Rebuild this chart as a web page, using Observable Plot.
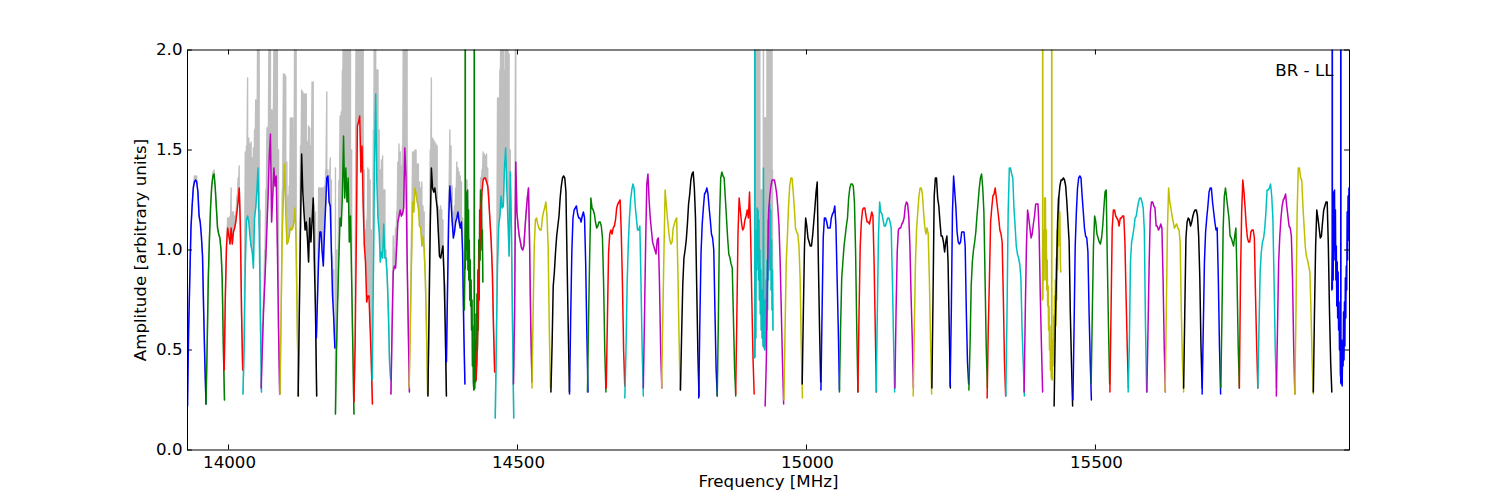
<!DOCTYPE html>
<html><head><meta charset="utf-8">
<style>html,body{margin:0;padding:0;background:#fff}</style>
<script src="https://cdn.jsdelivr.net/npm/d3@7"></script>
<script src="https://cdn.jsdelivr.net/npm/@observablehq/plot@0.6"></script>
</head><body><div id="chart"></div>
<script>
const xTicks=[14000,14500,15000,15500];
const yTicks=[0,0.5,1,1.5,2];
const xDomain=[13929,15939.6];
const bandWidth=32;
const cycle=["#0000ff","#008000","#ff0000","#00bfbf","#bf00bf","#bfbf00","#000000"];
const starts=[13929,13961,13992.5,14025,14056.5,14089,14120.5,14152,14185,14217,14248.6,14281,14312.5,14345,14377,14408,14428.5,14461.5,14493,14525,14557.8,14590,14621,14653.6,14685.7,14717.7,14749.4,14782,14813.6,14845.6,14877.5,14910,14928.5,14961,14992.6,15025,15057,15089,15120.6,15153,15184.6,15217,15248.6,15281,15312.6,15345,15376.6,15408,15428.5,15461,15492.6,15525,15556.6,15589,15620.6,15652.6,15684.6,15717,15749,15781,15813,15845,15877,15909];
const S=20; // off-scale spike amplitude
const b00=[.22,.61,.86,1.11,1.22,1.31,1.34,1.35,1.34,1.29,1.17,1.14,1.07,.97,.69,.44,.23];
const b01=[.23,.52,.86,1.06,1.22,1.32,1.37,1.38,1.31,1.21,1.11,1.08,1.06,1,.86,.52,.25];
const b02=[.40,.77,1.02,1.11,1.07,1.03,1.11,1.03,1.09,1.11,1.14,1.19,1.24,1.31,1.11,.69,.40];
const b03=[.28,.52,.92,1.15,1.17,1.14,1.07,1.02,.99,.91,1.16,1.21,1.29,1.41,1.11,.69,.29];
const b04=[.31,.51,.69,.82,.96,1.12,1.27,1.47,1.58,1.14,1.27,1.41,1.32,1.37,1.02,.61,.28];
const b05=[.28,.69,1.09,1.27,1.43,1.19,1.03,1.04,1.07,1.11,1.10,1.11,1.14,1.21,1.02,.61,.27];
const b06=[.27,.69,1.11,1.48,1.29,1.19,1.10,1.14,1.06,.94,1.16,1.04,1.14,1.26,.94,.69,.27];
const b07=[.56,.77,.96,1.09,1.09,.99,.92,1.09,1.22,1.36,1.37,1.24,1.22,.99,.77,.66,.51];
const b08=[.18,.52,.76,.97,1.16,1.12,1.27,1.57,1.26,1.41,1.24,1.36,1.04,1.17,.86,.52,.18];
const b09=[.24,.52,1.02,1.62,1.64,1.67,1.39,1.52,1.22,1.02,.94,.74,.77,.77,.61,.44,.23];
const b10=[.35,.86,1.44,1.78,1.34,1.16,1.09,.94,.99,.96,1.13,.96,.96,.86,.69,.44,.35];
const b11=[.28,.61,.89,.92,.91,1.02,1.14,1.17,1.20,1.17,1.18,1.21,1.51,1.37,.96,.61,.29];
const b12=[.31,.61,.94,1.24,1.19,1.31,1.28,1.24,1.21,1.12,1.11,1.02,1.07,1,.86,.61,.28];
const b13=[.27,.69,1.11,1.41,1.31,1.29,1.31,1.26,1.21,1.09,.97,.96,.99,1.02,.86,.61,.27];
const b14=[.44,.82,1.16,1.32,1.24,1.14,1.06,1.09,1.14,1.16,1.19,1.14,1.11,1.14,.99,.61,.33];
const b15=[.70,.90,S,1.15,1,1.29,.95,1.30,.9,1.2,.85,1.05,.75,.95,.72,.85,.6,.75,.42,.62,.34,.30,S,.31,.55,.34,.68,.42,.78,.5,.9,.6,1.05,.75,1.2,.95,1.3,1.05,1.28,1,1.1,.84];
const b16=[.35,.52,.77,1.02,1.19,1.29,1.35,1.36,1.36,1.34,1.32,1.24,1.14,1.04,.89,.61,.39];
const b17=[.16,.56,.94,1.12,1.17,1.27,1.21,1.22,1.41,1.51,1.31,1.14,.97,1.39,1.1,.6,.16];
const b18=[.33,.69,1.44,1.19,1.12,1.07,1.04,1.01,1,1.02,1.11,1.19,1.26,1.31,1.02,.61,.34];
const b19=[.31,.69,1.02,1.15,1.16,1.13,1.11,1.10,1.10,1.16,1.19,1.21,1.24,1.17,1.02,.61,.31];
const b20=[.29,.52,.82,.89,.99,1.07,1.12,1.17,1.26,1.32,1.36,1.37,1.36,1.29,.94,.61,.29];
const b21=[.28,.66,.99,1.16,1.20,1.21,1.22,1.18,1.16,1.16,1.14,1.17,1.19,1.16,.93,.58,.29];
const b22=[.29,.66,.99,1.26,1.21,1.2,1.18,1.14,1.11,1.12,1.14,1.14,1.12,1.06,.83,.5,.29];
const b23=[.31,.66,.99,1.08,1.1,1.08,1.11,1.12,1.15,1.21,1.23,1.24,1.25,1.08,.83,.5,.32];
const b24=[.26,.5,.83,1.03,1.16,1.25,1.30,1.33,1.31,1.22,1.16,1.10,1.10,1.12,.83,.5,.27];
const b25=[.31,.66,1.03,1.33,1.38,1.25,1.16,1.10,1.04,1.02,1,.98,1.05,1.06,.83,.5,.31];
const b26=[.31,.66,.99,1.30,1.23,1.16,1.10,1.05,1.03,1.04,1.11,1.13,1.15,1.16,.91,.58,.30];
const b27=[.30,.58,.83,.96,1,1.05,1.13,1.23,1.28,1.35,1.38,1.39,1.31,1.16,.83,.5,.27];
const b28=[.26,.66,.99,1.13,1.21,1.28,1.29,1.31,1.28,1.21,1.15,1.08,1.06,1,.70,.41,.27];
const b29=[.27,.66,1.16,1.36,1.39,1.37,1.36,1.26,1.16,1.06,.98,.96,.93,.91,.66,.41,.27];
const b30=[.28,.66,1.08,1.26,1.2,1.14,1.10,1.11,1.15,1.17,1.2,1.16,1.29,1.06,.75,.46,.28];
const b31=[.46,S,.7,.56,1.1,.9,1.21,.95,1.2,.85,1.15,.75,1,.68,.9,.6,.8,.56,.7,.52,1.41,.51,.6,.5,.75,.52,.85,.6,.95,.7,1.15,.85,1.22,.95,1.23,.9,1.2,.8,1.05,.7,.9,.6];
const b32=[.22,.44,.86,1.19,1.27,1.32,1.35,1.35,1.35,1.32,1.28,1.21,1.12,.94,.69,.44,.23];
const b33=[.25,.61,.94,1.07,1.22,1.32,1.36,1.36,1.29,1.21,1.11,1.09,1.08,1.02,.86,.52,.26];
const b34=[.33,.69,1.02,1.16,1.12,1.06,1.04,1.02,1.02,1.07,1.14,1.21,1.29,1.34,.94,.61,.34];
const b35=[.30,.69,1.06,1.16,1.16,1.14,1.11,1.11,1.11,1.16,1.18,1.19,1.22,1.12,.86,.61,.30];
const b36=[.29,.61,.86,.94,1.02,1.07,1.12,1.16,1.26,1.31,1.33,1.33,1.32,1.24,.99,.61,.29];
const b37=[.29,.69,1.02,1.14,1.20,1.21,1.21,1.17,1.14,1.14,1.13,1.16,1.19,1.17,.94,.61,.29];
const b38=[.29,.69,1.07,1.24,1.19,1.18,1.15,1.12,1.12,1.14,1.16,1.16,1.14,1.11,.86,.56,.29];
const b39=[.31,.69,.99,1.10,1.11,1.11,1.13,1.14,1.16,1.22,1.24,1.23,1.17,1.02,.77,.56,.31];
const b40=[.27,.61,.94,1.11,1.19,1.27,1.31,1.31,1.28,1.19,1.12,1.08,1.11,1.08,.86,.56,.28];
const b41=[.31,.77,1.27,1.36,1.36,1.26,1.22,1.14,1.07,1.07,1.04,.99,1.04,1.07,.94,.61,.31];
const b42=[.32,.69,1.19,1.37,1.29,1.21,1.09,1.04,1.03,1.04,1.09,1.09,1.09,1.02,.69,.44,.33];
const b43=[.30,.52,.82,.94,1,1.04,1.09,1.17,1.24,1.31,1.36,1.38,1.31,1.19,.86,.52,.31];
const b44=[.26,.61,.86,1.14,1.21,1.27,1.28,1.31,1.26,1.21,1.16,1.10,1.08,1.04,.77,.44,.27];
const b45=[.27,.69,1.19,1.41,1.41,1.38,1.36,1.21,1.12,1.02,.98,.96,.93,.86,.61,.44,.27];
const b46=[.29,.69,1.02,1.20,1.16,1.11,1.06,1.08,1.13,1.17,1.23,1.23,1.23,1.09,.77,.52,.29];
const b47=[.75,S,.9,1.1,.85,1.26,.95,1.26,.85,1.1,.8,.95,.72,.82,.6,.72,.5,.62,.4,.5,.36,S,.35,.55,.42,.67,.47,.77,.55,.85,.62,.96,.75,1.1,.9,1.26,1.02,1.27,1.05,1.19,.95,.89];
const b48=[.22,.61,.86,1.14,1.26,1.32,1.35,1.35,1.36,1.35,1.32,1.24,1.14,1.04,.69,.44,.22];
const b49=[.25,.61,1.02,1.19,1.31,1.36,1.37,1.36,1.27,1.19,1.11,1.07,1.06,.99,.69,.44,.25];
const b50=[.33,.69,1.02,1.17,1.14,1.08,1.06,1.04,1.03,1.06,1.12,1.21,1.29,1.30,.94,.61,.33];
const b51=[.29,.69,1.11,1.20,1.20,1.17,1.16,1.15,1.12,1.16,1.16,1.17,1.17,1.04,.77,.52,.31];
const b52=[.29,.52,.94,1.04,1.07,1.11,1.16,1.17,1.21,1.24,1.26,1.26,1.24,1.21,1.10,.62,.29];
const b53=[.29,.61,.94,1.19,1.24,1.24,1.22,1.21,1.12,1.12,1.10,1.11,1.13,1.11,.86,.52,.29];
const b54=[.29,.69,1.11,1.31,1.24,1.21,1.17,1.14,1.11,1.12,1.13,1.11,1.10,1.04,.69,.44,.29];
const b55=[.31,.69,1.06,1.14,1.16,1.15,1.12,1.14,1.17,1.19,1.20,1.20,1.17,1.07,.86,.52,.31];
const b56=[.28,.61,.94,1.09,1.16,1.22,1.29,1.31,1.31,1.24,1.19,1.14,1.10,1.11,.86,.52,.28];
const b57=[.31,.69,1.11,1.27,1.31,1.26,1.21,1.16,1.07,1.06,1.04,1.02,1.07,1.11,.86,.52,.31];
const b58=[.31,.86,1.19,1.35,1.29,1.21,1.12,1.06,1.04,1.04,1.09,1.10,1.10,1.06,.77,.52,.31];
const b59=[.31,.61,.89,.99,1.04,1.06,1.11,1.19,1.30,1.30,1.31,1.33,1.27,1.16,.86,.52,.31];
const b60=[.27,.61,.94,1.07,1.16,1.22,1.25,1.26,1.28,1.22,1.17,1.12,1.11,1.07,.86,.52,.28];
const b61=[.28,.69,1.19,1.41,1.41,1.36,1.35,1.22,1.12,1.02,.97,.95,.92,.89,.69,.44,.28];
const b62=[.29,.69,1.02,1.20,1.16,1.11,1.06,1.07,1.14,1.20,1.22,1.24,1.24,1.02,.69,.44,.29];
const b63=[.80,S,1,.85,1.29,1,1.3,.95,1.2,.85,1.02,.72,.94,.66,.89,.6,.74,.5,.61,.38,S,.33,.55,.32,.52,.42,.69,.45,.74,.52,.86,.66,.92,.8,1.19,.95,1.27,1.05,1.31,1.05,1.29,1.02];
const bands=[b00,b01,b02,b03,b04,b05,b06,b07,b08,b09,b10,b11,b12,b13,b14,b15,b16,b17,b18,b19,b20,b21,b22,b23,b24,b25,b26,b27,b28,b29,b30,b31,b32,b33,b34,b35,b36,b37,b38,b39,b40,b41,b42,b43,b44,b45,b46,b47,b48,b49,b50,b51,b52,b53,b54,b55,b56,b57,b58,b59,b60,b61,b62,b63];
// upper reach of the grey (unflagged) trace per channel; 0 = hidden behind the coloured trace
const T=2.5;
const grayTop={
0:[0,0,0,0,0,0,1.37,1.37,1.37,0,0,0,0,0,0,0,0],
1:[0,0,0,0,0,1.34,1.39,1.40,0,0,0,0,0,0,0,0,0],
2:[0,0,0,1.16,1.16,1.17,1.31,1.19,1.19,1.17,1.19,1.27,1.36,1.42,1.19,0,0],
3:[0,0,1.49,1.52,1.86,1.56,1.53,1.54,1.46,1.51,1.6,1.75,1.75,T,T,1.2,0],
4:[0,.64,.77,1,1.3,1.61,1.62,T,T,1.7,1.7,2,T,T,T,1.5,0],
5:[0,0,1.3,1.88,1.88,1.87,1.44,1.27,1.32,1.66,1.66,1.66,1.27,T,T,0,0],
6:[0,0,1.52,1.8,1.79,1.78,1.78,1.78,1.54,1.62,1.61,1.52,1.84,1.84,1.21,1.19,0],
7:[0,0,1.31,1.31,1.31,1.31,1.31,1.32,1.4,1.79,1.4,1.31,1.46,1.35,.96,.9,0],
8:[1.41,1,.9,1.35,1.67,1.69,1.9,T,T,T,T,T,T,T,1.5,0,0],
9:[0,0,T,T,T,T,T,T,T,1.4,1.1,1.15,1.41,1.4,1.35,1.1,0],
10:[0,1.6,T,T,1.9,1.9,1.6,1.4,1.45,1.47,1.3,1.3,1,0,0,0,0],
11:[0,0,1.07,1,1.11,1.19,1.44,1.53,1.49,1.42,1.52,T,T,T,T,0,0],
12:[0,0,1.1,1.49,1.49,1.5,1.5,1.43,1.43,1.34,1.31,1.34,1.22,1.19,0,0,0],
13:[0,0,1.5,1.86,1.56,1.55,1.54,1.53,1.52,1.22,1.2,1.22,1.2,1.15,.82,.82,0],
14:[0,0,1.3,1.6,1.52,1.32,1.19,1.22,1.31,1.44,1.41,1.39,1.37,1.34,1.16,0,0],
15:[0,0,0,0,0,1.35,1.35,1.3,1.3,1.25,1.2,0,0,0,0,0,0,0,0,0,0,0,0,0,0,0,0,0,0,0,0,0,0,0,0,0,1.36,1.3,1.2,0,0,0],
16:[0,0,0,0,1.36,1.4,1.49,1.48,1.47,1.48,1.41,1.3,0,0,0,0,0],
17:[0,0,1.76,1.76,1.9,T,T,T,1.9,T,T,T,1.98,1.5,0,0,0],
18:[0,0,T,0,0,0,0,0,0,0,0,0,0,0,0,0,0],
31:[0,0,T,T,T,T,T,T,T,T,T,T,T,1.3,1.3,1.3,1.3,1.3,1.3,1.3,T,1.66,1.66,1.66,1.66,1.66,1.66,1.66,T,T,T,T,T,T,T,T,T,T,T,T,1.4,0]
};
const freq=(i,k,n)=>starts[i]+bandWidth*k/(n-1);
const grayRows=[];
for(const key of Object.keys(grayTop)){
  const i=+key, top=grayTop[key], vals=bands[i];
  top.forEach((h,k)=>{
    if(vals[k]===S) return;
    const f=freq(i,k,vals.length), v=vals[k];
    grayRows.push({f,a:Math.max(h,v),band:i});
    grayRows.push({f,a:v,band:i});
  });
}
// off-scale channels are drawn as single thin excursions to beyond the top of the frame
const spikes=[];
bands.forEach((vals,i)=>vals.forEach((a,k)=>{
  if(a===S) spikes.push({f:freq(i,k,vals.length),low:Math.min(vals[k-1],vals[k+1]),band:i});
}));
const colored=bands.flatMap((vals,i)=>{
  const rows=vals.map((a,k)=>({f:freq(i,k,vals.length),a})).filter(d=>d.a!==S);
  return [
    Plot.line(rows,{x:"f",y:"a",stroke:cycle[i%7],strokeWidth:1.5,clip:true,strokeLinejoin:"round"}),
    Plot.ruleX(spikes.filter(d=>d.band===i),{x:"f",y1:"low",y2:T,stroke:cycle[i%7],strokeWidth:1.7,clip:true})
  ];
});
const chart=Plot.plot({
  width:1500,height:500,
  marginLeft:187,marginRight:151,marginTop:49.5,marginBottom:50.5,
  style:{fontFamily:"'DejaVu Sans'",fontSize:"16.67px",background:"#fff",color:"#000"},
  x:{domain:xDomain},
  y:{domain:[0,2]},
  marks:[
    Plot.line(grayRows,{x:"f",y:"a",z:"band",stroke:"#bfbfbf",strokeWidth:1.4,clip:true}),
    ...colored,
    Plot.ruleX(xTicks,{y1:0,y2:0.025,stroke:"#000",strokeWidth:1}),
    Plot.ruleX(xTicks,{y1:2,y2:1.975,stroke:"#000",strokeWidth:1}),
    Plot.ruleY(yTicks,{x1:xDomain[0],x2:xDomain[0]+8.5,stroke:"#000",strokeWidth:1}),
    Plot.ruleY(yTicks,{x1:xDomain[1],x2:xDomain[1]-8.5,stroke:"#000",strokeWidth:1}),
    Plot.frame({stroke:"#000",strokeWidth:1}),
    Plot.axisX({ticks:xTicks,tickSize:0,tickPadding:6,dx:1,tickFormat:d=>String(d),label:"Frequency [MHz]",labelAnchor:"center",labelArrow:"none",labelOffset:37,fontSize:16.67}),
    Plot.axisY({ticks:yTicks,tickSize:0,tickPadding:5,tickFormat:d3.format(".1f"),label:"Amplitude [arbitrary units]",labelAnchor:"center",labelArrow:"none",labelOffset:53,fontSize:16.67}),
    Plot.text(["BR - LL"],{frameAnchor:"top-right",dx:-16,dy:14,textAnchor:"end",fontSize:16.67})
  ]
});
document.getElementById("chart").appendChild(chart);
</script></body></html>
